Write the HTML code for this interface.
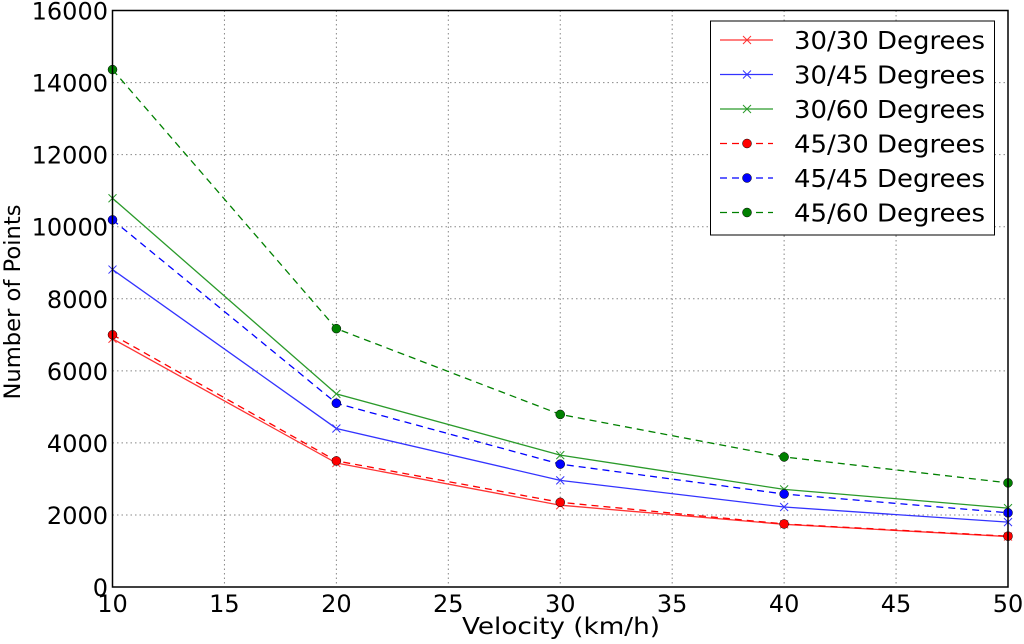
<!DOCTYPE html>
<html><head><meta charset="utf-8"><style>
body{margin:0;background:#fff;}
svg text{font-family:"DejaVu Sans","Liberation Sans",sans-serif;fill:#000;}
</style></head><body>
<svg id="chart" width="1024" height="639" viewBox="0 0 1024 639">
<g id="grid"></g>
<g id="series"></g>
<rect x="112.5" y="10.5" width="895.5" height="576.5" fill="none" stroke="#000" stroke-width="1.5"/>
<g id="ticks"></g>
<text x="561" y="634" font-size="23" text-anchor="middle" textLength="198" lengthAdjust="spacingAndGlyphs">Velocity (km/h)</text>
<text transform="translate(20,302) rotate(-90)" font-size="22" text-anchor="middle" textLength="195" lengthAdjust="spacingAndGlyphs">Number of Points</text>
<g id="legend"></g>
</svg>
<script>
const velocities=[10,20,30,40,50];
const s3030=[6890,3440,2270,1740,1400];
const s3045=[8810,4400,2960,2220,1800];
const s3060=[10790,5360,3660,2710,2190];
const s4530=[7000,3500,2350,1750,1410];
const s4545=[10190,5100,3410,2580,2060];
const s4560=[14360,7170,4790,3610,2890];
const seriesNames=["30/30 Degrees","30/45 Degrees","30/60 Degrees","45/30 Degrees","45/45 Degrees","45/60 Degrees"];
const xTicks=[10,15,20,25,30,35,40,45,50];
const yTicks=[0,2000,4000,6000,8000,10000,12000,14000,16000];
const NS="http://www.w3.org/2000/svg";
const L=112.5,R=1008,T=10.5,B=587;
const xs=v=>L+(v-10)/40*(R-L);
const ys=v=>B-v/16000*(B-T);
function mk(tag,attrs,parent){const e=document.createElementNS(NS,tag);for(const k in attrs)e.setAttribute(k,attrs[k]);parent.appendChild(e);return e;}
const grid=document.getElementById('grid'),ticks=document.getElementById('ticks'),ser=document.getElementById('series'),leg=document.getElementById('legend');
xTicks.forEach(v=>{const x=xs(v);
 const g=mk('line',{x1:x,x2:x,y1:T,y2:B,stroke:'#888','stroke-dasharray':'1.5,3','stroke-width':1},grid);
 
 
 const t=mk('text',{x:x,y:612,'font-size':24,'text-anchor':'middle'},ticks);t.textContent=v;
 
 });
yTicks.forEach(v=>{const y=ys(v);
 const g=mk('line',{x1:L,x2:R,y1:y,y2:y,stroke:'#888','stroke-dasharray':'1.5,3','stroke-width':1},grid);
 
 
 const t=mk('text',{x:108,y:y+9,'font-size':24,'text-anchor':'end'},ticks);t.textContent=v;
 
 });
const data=[s3030,s3045,s3060,s4530,s4545,s4560];
const cols=['#ff3333','#3333ff','#2a9a2a','#ff0000','#0000ff','#008000'];
const dotCols=['#ff0000','#0000ff','#008000'];
function xmark(x,y,c,p){const e=mk('path',{d:`M${x-4},${y-4}L${x+4},${y+4}M${x-4},${y+4}L${x+4},${y-4}`,stroke:c,'stroke-width':1,fill:'none'},p);return e;}
data.forEach((d,i)=>{const dashed=i>=3;
 const pts=d.map((v,j)=>xs(velocities[j])+','+ys(v)).join(' ');
 const pl=mk('polyline',{points:pts,fill:'none',stroke:cols[i],'stroke-width':1.3,'stroke-dasharray':dashed?'7,5':'none'},ser);
 
 
 d.forEach((v,j)=>{const x=xs(velocities[j]),y=ys(v);
  let m;
  if(dashed){m=mk('circle',{cx:x,cy:y,r:4.5,fill:dotCols[i-3],stroke:'#000','stroke-width':0.5},ser);}
  else{m=xmark(x,y,cols[i],ser);}
  
  });});
const lb=mk('rect',{x:710.5,y:21,width:284,height:214,fill:'#fff',stroke:'#000','stroke-width':1},leg);


seriesNames.forEach((n,i)=>{const y=40+i*34.5,dashed=i>=3;
 const g=mk('g',{},leg);
 
 
 mk('line',{x1:720,x2:773,y1:y,y2:y,stroke:cols[i],'stroke-width':1.3,'stroke-dasharray':dashed?'7,5':'none'},g);
 if(dashed)mk('circle',{cx:747,cy:y,r:4.5,fill:dotCols[i-3],stroke:'#000','stroke-width':0.5},g);else xmark(747,y,cols[i],g);
 const t=mk('text',{x:794,y:y+9,'font-size':25,textLength:191,lengthAdjust:'spacingAndGlyphs'},g);t.textContent=n;});
</script>
</body></html>
